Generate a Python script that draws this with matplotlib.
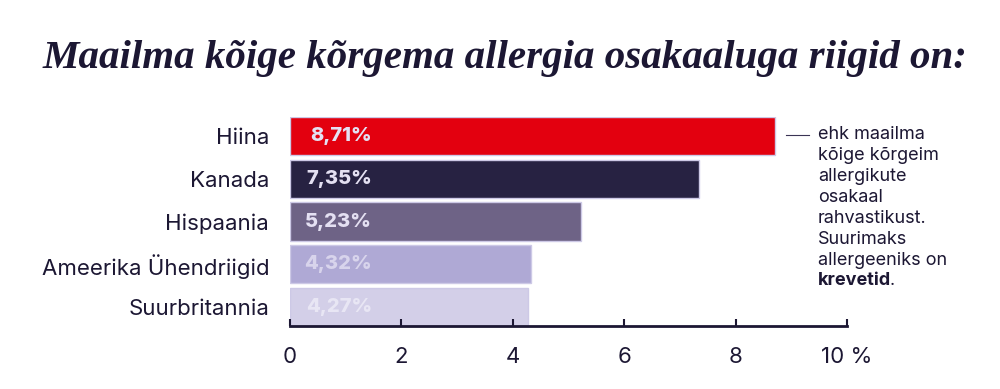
import matplotlib.pyplot as plt

plt.rcParams['font.family'] = ['Inter', 'DejaVu Sans']

countries = ['Hiina', 'Kanada', 'Hispaania', 'Ameerika Ühendriigid', 'Suurbritannia']
values = [8.71, 7.35, 5.23, 4.32, 4.27]
labels = ['8,71%', '7,35%', '5,23%', '4,32%', '4,27%']
bar_colors = ['#e3000f', '#272242', '#6e6386', '#afa9d5', '#d3cfe8']
label_colors = ['#e4e0f2', '#e4e0f2', '#e4e0f2', '#d8d4ec', '#e8e6f4']
xticks = [0, 2, 4, 6, 8, 10]
xticklabels = ['0', '2', '4', '6', '8', '10 %']

navy = '#1c1733'

fig = plt.figure(figsize=(10, 3.89), dpi=100)
ax = fig.add_axes([0.29, 0.162, 0.557, 0.537])

pos = list(range(len(countries)))
ax.barh(pos, values, height=0.9, color=bar_colors, edgecolor='#cdc9e6', linewidth=1.0)

for i in pos:
    ax.text(1.47, i, labels[i], ha='right', va='center', fontsize=14.5,
            fontweight='heavy', color=label_colors[i])

ax.set_ylim(4.45, -0.45)
ax.set_xlim(0, 10)
ax.set_yticks(pos)
ax.set_yticklabels(countries, fontsize=16, color=navy)
ax.set_xticks(xticks)
ax.set_xticklabels(xticklabels, fontsize=16, color=navy)
ax.tick_params(axis='y', length=0, pad=15)
ax.tick_params(axis='x', direction='in', length=5, width=1.5, color=navy, pad=15)
for s in ['top', 'right', 'left']:
    ax.spines[s].set_visible(False)
ax.spines['bottom'].set_color(navy)
ax.spines['bottom'].set_linewidth(2)

# annotation
ax.plot([8.9, 9.32], [-0.02, -0.02], color='#3a3455', linewidth=0.8, clip_on=False)
note = 'ehk maailma\nkõige kõrgeim\nallergikute\nosakaal\nrahvastikust.\nSuurimaks\nallergeeniks on'
t = fig.text(0.818, 0.675, note, ha='left', va='top', fontsize=13, color=navy, linespacing=1.3)
fig.canvas.draw()
bb = t.get_window_extent()
tb = fig.text(0.818, bb.y0 / fig.bbox.height - 0.008, 'krevetid', ha='left', va='top',
              fontsize=13, fontweight='bold', color=navy)
ax.annotate('.', xy=(1, 0), xycoords=tb, xytext=(-1.5, 0), textcoords='offset points',
            ha='left', va='bottom', fontsize=13, color=navy)

fig.text(0.505, 0.85, 'Maailma kõige kõrgema allergia osakaaluga riigid on:',
         ha='center', va='center', fontsize=29.5, fontweight='bold', fontstyle='italic',
         family='Liberation Serif', color=navy)

plt.savefig('out.png', dpi=100)
